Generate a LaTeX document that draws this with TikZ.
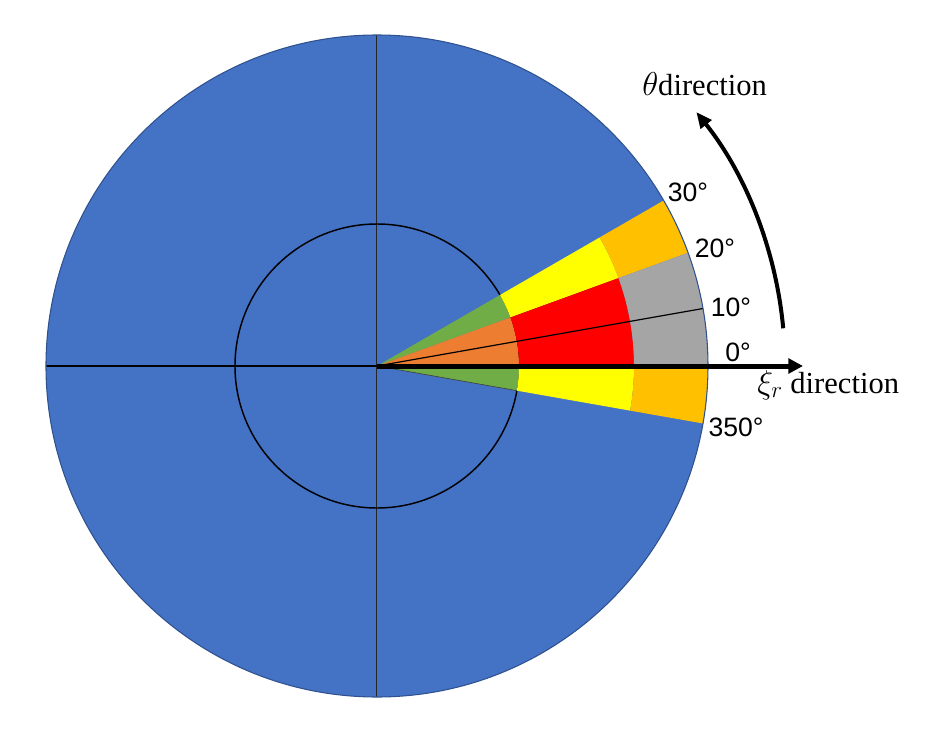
\documentclass[tikz,border=0pt]{standalone}
\usepackage{fontspec}
\setmainfont{Liberation Serif}
\newfontfamily\degfont{Liberation Sans}
\usepackage{tikz}
\usetikzlibrary{arrows.meta}
\definecolor{diskblue}{RGB}{68,114,196}
\definecolor{rimblue}{RGB}{47,82,143}
\definecolor{wedgegreen}{RGB}{112,173,71}
\definecolor{wedgeorange}{RGB}{237,125,49}
\definecolor{wedgered}{RGB}{255,0,0}
\definecolor{wedgeyellow}{RGB}{255,255,0}
\definecolor{wedgegold}{RGB}{255,192,0}
\definecolor{wedgegray}{RGB}{165,165,165}

\begin{document}
\begin{tikzpicture}[>=Stealth, x=0.75bp, y=0.75bp]
  \useasboundingbox (-377,-366) rectangle (548,366);
  \coordinate (O) at (0,0);
  % Disk and axes
  \fill[diskblue] (O) circle (331);
  \coordinate (top) at (90:331);
  \coordinate (bot) at (-90:331);
  \coordinate (lft) at (180:331);
  \draw[black!85, line width=0.75pt] (top) -- (bot);
  \draw[black, line width=1.4pt] (lft) -- (O);
  % Inner circle
  \draw[black, line width=1.1pt] (O) circle (142);
  % Coloured sectors
  \foreach \a/\b/\ri/\ro/\c in {20/30/0/142/wedgegreen, 0/20/0/142/wedgeorange,
      -10/0/0/142/wedgegreen, 20/30/142/257/wedgeyellow, 0/20/142/257/wedgered,
      -10/0/142/257/wedgeyellow, 20/30/257/331/wedgegold, 0/20/257/331/wedgegray,
      -10/0/257/331/wedgegold}
    \fill[\c] (\a:\ri) arc[start angle=\a, end angle=\b, radius=\ri]
      -- (\b:\ro) arc[start angle=\b, end angle=\a, radius=\ro] -- cycle;
  \draw[black!75, line width=0.5pt] (O) -- (-10:142);
  \coordinate (ten) at (10:331);
  \draw[black, line width=0.9pt] (O) -- (ten);
  \draw[rimblue, line width=0.8pt] (O) circle (331);
  % Directions
  \coordinate (xitip) at (426,0);
  \draw[line width=3.75bp, -{Triangle[length=11bp, width=11bp]}] (O) -- (xitip);
  \coordinate (thstart) at (5.3:408);
  \draw[line width=3bp, -{Triangle[length=12bp, width=10bp]}]
    (thstart) arc[start angle=5.3, end angle=38.5, radius=408];
  \node[anchor=base west, inner sep=0pt, font=\fontsize{23}{27}\selectfont] (thlabel)
    at (265,271) {$\theta$direction};
  \node[anchor=base west, inner sep=0pt, font=\fontsize{23}{27}\selectfont] (xilabel)
    at (380,-27) {$\xi_r$ direction};
  % Angle labels
  \tikzset{deg/.style={font=\degfont\fontsize{20}{24}\selectfont, inner sep=0pt}}
  \node[deg] (d30) at (311,174) {30°};
  \node[deg] (d20) at (338,118) {20°};
  \node[deg] (d10) at (354,59) {10°};
  \node[deg] (d0) at (361,14) {0°};
  \node[deg] (d350) at (359,-61) {350°};
\end{tikzpicture}
\end{document}
